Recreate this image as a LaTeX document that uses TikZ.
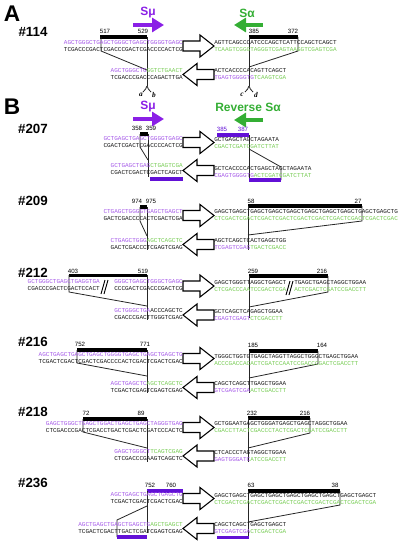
\documentclass[tikz,border=0pt]{standalone}
\usepackage{fontspec}
\setmainfont{Liberation Sans}
\newfontfamily\seqfont{Liberation Mono}
\newfontfamily\serifit{Liberation Serif}
\usetikzlibrary{arrows.meta}
\definecolor{sp}{HTML}{A65BE8}
\definecolor{sg}{HTML}{78CC55}
\definecolor{sk}{HTML}{1A1A1A}
\definecolor{apurple}{HTML}{8A1FE6}
\definecolor{agreen}{HTML}{34AE34}
\definecolor{bpurple}{HTML}{6210D6}
\newcommand{\Pu}[1]{\textcolor{sp}{#1}}
\newcommand{\Gr}[1]{\textcolor{sg}{#1}}
\newcommand{\RArr}[1]{\draw[openarr] (183,#1-5) -- (200,#1-5) -- (200,#1-11) -- (214,#1) -- (200,#1+11) -- (200,#1+5) -- (183,#1+5) -- cycle;}
\newcommand{\LArr}[1]{\draw[openarr] (214,#1-5) -- (197,#1-5) -- (197,#1-11) -- (183,#1) -- (197,#1+11) -- (197,#1+5) -- (214,#1+5) -- cycle;}
\newcommand{\Fork}[2]{\draw[thinline] (#1,#2) to[out=270,in=60] (#1-4,#2+6); \draw[thinline] (#1,#2) to[out=270,in=120] (#1+4,#2+6);}
\begin{document}
\begin{tikzpicture}[x=0.75pt,y=-0.75pt,
  seq/.style={font=\seqfont\fontsize{4.5}{4.5}\selectfont, inner sep=0pt, text=sk},
  num/.style={font=\fontsize{4.6}{5}\selectfont, inner sep=0pt},
  panel/.style={font=\bfseries\fontsize{17}{17}\selectfont, inner sep=0pt},
  rowlab/.style={font=\bfseries\fontsize{10}{10}\selectfont, inner sep=0pt},
  region/.style={font=\bfseries\fontsize{9}{9}\selectfont, inner sep=0pt},
  site/.style={font=\serifit\itshape\bfseries\fontsize{5.5}{6}\selectfont, inner sep=0pt},
  bar/.style={line width=2.4pt},
  pbar/.style={line width=2.4pt, draw=bpurple},
  thinline/.style={line width=0.6pt, draw=black!85},
  openarr/.style={line width=0.8pt, draw=black, fill=white},
  swarrow/.style={line width=3.4pt, -{Triangle[length=9pt,width=10.5pt]}}]
\useasboundingbox (0,0) rectangle (400,542);

% ================= Panel A =================
\node[panel] (lA) at (12,14) {A};
\node[rowlab] (r114) at (33,32) {\#114};
\node[region, text=apurple] (smuA) at (148,13) {Sμ};
\draw[swarrow, draw=apurple] (133,25) -- (164,25);
\node[region, text=agreen] (saA) at (247,13) {Sα};
\draw[swarrow, draw=agreen] (263,25) -- (234,25);

\draw[bar] (100,37) -- (147,37);
\node[num] (n517) at (105,31.5) {517};
\node[num] (n529) at (143,31.5) {529};
\draw[bar] (249,37) -- (298,37);
\node[num] (n385a) at (254,31.5) {385};
\node[num] (n372) at (293,31.5) {372};

\draw[thinline] (101,37) -- (101,51) -- (147,70);
\draw[thinline] (147,37) -- (147,86);
\draw[thinline] (298,37) -- (298,51) -- (249,67);
\draw[thinline] (249,37) -- (249,86);
\Fork{147}{86}
\Fork{249}{86}
\node[site] (sa) at (141,95) {a};
\node[site] (sb) at (154,95) {b};
\node[site] (sc) at (242,95) {c};
\node[site] (sd) at (256,95) {d};

\RArr{46}
\LArr{74.5}
\node[seq, anchor=east] (a1) at (183,42.5) {\Pu{AGCTGGGCTGAGCTGGGCTGAGCTGGGGTGAGC}};
\node[seq, anchor=east] (a2) at (183,49.5) {TCGACCCGACTCGACCCGACTCGACCCCACTCG};
\node[seq, anchor=west] (a3) at (214,42.5) {AGTTCAGCCCATCCCAGCTCATTCCAGCTCAGCT};
\node[seq, anchor=west] (a4) at (214,49.5) {\Gr{TCAAGTCGGGTAGGGTCGAGTAAGGTCGAGTCGA}};
\node[seq, anchor=east] (a5) at (183,71) {\Pu{AGCTGGGCTG}\Gr{GGTCTGAACT}};
\node[seq, anchor=east] (a6) at (183,78) {TCGACCCGACCCAGACTTGA};
\node[seq, anchor=west] (a7) at (214,71) {ACTCACCCCACAGTTCAGCT};
\node[seq, anchor=west] (a8) at (214,78) {\Pu{TGAGTGGGGTG}\Gr{TCAAGTCGA}};

% ================= Panel B =================
\node[panel] (lB) at (12,107) {B};
\node[region, text=apurple] (smuB) at (148,107) {Sμ};
\draw[swarrow, draw=apurple] (133,119) -- (164,119);
\node[region, text=agreen] (saB) at (248,107) {Reverse Sα};
\draw[swarrow, draw=agreen] (263,120) -- (234,120);

% ---- #207 ----
\node[rowlab] (r207) at (33,129) {\#207};
\node[num] (n358) at (137,128.5) {358};
\node[num] (n359) at (151,128.5) {359};
\draw[bar] (140,134) -- (148,134);
\node[num, text=bpurple] (n385b) at (222,129) {385};
\node[num, text=bpurple] (n387) at (243,129) {387};
\draw[pbar] (217,135) -- (249,135);
\draw[thinline] (140,134) -- (140,147) -- (148,160);
\draw[thinline] (148,134) -- (148,177);
\draw[thinline] (249,135) -- (249,180);
\draw[thinline] (249,149) -- (281,167) -- (281,180);
\draw[pbar] (150,179) -- (183,179);
\draw[pbar] (249,180) -- (281,180);
\RArr{142.5}
\LArr{170.5}
\node[seq, anchor=east] (b1) at (183,139) {\Pu{GCTGAGCTGAGCTGGGGTGAGC}};
\node[seq, anchor=east] (b2) at (183,146) {CGACTCGACTCGACCCCACTCG};
\node[seq, anchor=west] (b3) at (214,140) {GCTGAGCTAGCTAGAATA};
\node[seq, anchor=west] (b4) at (214,147) {\Gr{CGACTCGATCGATCTTAT}};
\node[seq, anchor=east] (b5) at (183,166) {\Pu{GCTGAGCTGAG}\Gr{CTGAGTCGA}};
\node[seq, anchor=east] (b6) at (183,173) {CGACTCGACTCGACTCAGCT};
\node[seq, anchor=west] (b7) at (214,169) {GCTCACCCCACTGAGCTAGCTAGAATA};
\node[seq, anchor=west] (b8) at (214,176) {\Pu{CGAGTGGGGTG}\Gr{ACTCGATCGATCTTAT}};

% ---- #209 ----
\node[rowlab] (r209) at (33,201) {\#209};
\node[num] (n974) at (137,201.5) {974};
\node[num] (n975) at (151,201.5) {975};
\draw[bar] (140,207) -- (147,207);
\node[num] (n58) at (251,201.5) {58};
\node[num] (n27) at (358,201.5) {27};
\draw[bar] (248,206) -- (362,206);
\draw[thinline] (140,207) -- (140,221) -- (147,236);
\draw[thinline] (147,207) -- (147,250);
\draw[thinline] (362,206) -- (362,221) -- (248,235);
\draw[thinline] (248,206) -- (248,250);
\RArr{215.5}
\LArr{244.5}
\node[seq, anchor=east] (c1) at (183,212) {\Pu{CTGAGCTGGGGTGAGCTGAGCT}};
\node[seq, anchor=east] (c2) at (183,219) {GACTCGACCCCACTCGACTCGA};
\node[seq, anchor=west] (c3) at (214,212) {GAGCTGAGCTGAGCTGAGCTGAGCTGAGCTGAGCTGAGCTGAGCTGAGCTG};
\node[seq, anchor=west] (c4) at (214,219) {\Gr{CTCGACTCGACTCGACTCGACTCGACTCGACTCGACTCGACTCGACTCGAC}};
\node[seq, anchor=east] (c5) at (183,241) {\Pu{CTGAGCTGGG}\Gr{AGCTCAGCTC}};
\node[seq, anchor=east] (c6) at (183,248) {GACTCGACCCTCGAGTCGAG};
\node[seq, anchor=west] (c7) at (214,241) {AGCTCAGCTCACTGAGCTGG};
\node[seq, anchor=west] (c8) at (214,248) {\Pu{TCGAGTCGAG}\Gr{TGACTCGACC}};

% ---- #212 ----
\node[rowlab] (r212) at (33,273) {\#212};
\node[num] (n403) at (73,271.5) {403};
\node[num] (n519) at (143,271.5) {519};
\draw[bar] (69,275.5) -- (147,275.5);
\node[num] (n259) at (253,271.5) {259};
\node[num] (n216a) at (322,271.5) {216};
\draw[bar] (249,276) -- (328,276);
\draw[thinline] (69,275) -- (69,292) -- (147,306);
\draw[thinline] (147,275) -- (147,320);
\draw[thinline] (328,276) -- (328,292) -- (249,307);
\draw[thinline] (249,276) -- (249,318);
\RArr{286}
\LArr{315}
\node[seq, anchor=east] (d1) at (100,282) {\Pu{GCTGGGCTGAGCTGAGGTGA}};
\node[seq, anchor=east] (d2) at (100,289) {CGACCCGACTCGACTCCACT};
\draw[line width=0.7pt] (101,294) -- (105,280) (104,294) -- (108,280);
\node[seq, anchor=east] (d1b) at (183,282) {\Pu{GGGCTGAGCTGGGCTGAGC}};
\node[seq, anchor=east] (d2b) at (183,289) {CCCGACTCGACCCGACTCG};
\node[seq, anchor=west] (d3) at (214,283) {GAGCTGGGTTAGGCTGAGCT};
\node[seq, anchor=west] (d4) at (214,290) {\Gr{CTCGACCCAATCCGACTCGA}};
\draw[line width=0.7pt] (286,295) -- (290,281) (289,295) -- (293,281);
\node[seq, anchor=west] (d3b) at (294,283) {TGAGCTGAGCTAGGCTGGAA};
\node[seq, anchor=west] (d4b) at (294,290) {\Gr{ACTCGACTCGATCCGACCTT}};
\node[seq, anchor=east] (d5) at (183,311) {\Pu{GCTGGGCTGA}ACCCAGCTC};
\node[seq, anchor=east] (d6) at (183,318) {CGACCCGACTTGGGTCGAG};
\node[seq, anchor=west] (d7) at (214,312) {GCTCAGCTCAGAGCTGGAA};
\node[seq, anchor=west] (d8) at (214,319) {\Pu{CGAGTCGAGT}\Gr{CTCGACCTT}};

% ---- #216 ----
\node[rowlab] (r216) at (33,342) {\#216};
\node[num] (n752a) at (80,344.5) {752};
\node[num] (n771) at (145,344.5) {771};
\draw[bar] (77,350) -- (147,350);
\node[num] (n185) at (253,345) {185};
\node[num] (n164) at (322,345) {164};
\draw[bar] (249,351) -- (318,351);
\draw[thinline] (77,350) -- (77,363) -- (147,376);
\draw[thinline] (147,350) -- (147,393);
\draw[thinline] (318,351) -- (318,364) -- (249,378);
\draw[thinline] (249,351) -- (249,393);
\RArr{358.5}
\LArr{387.5}
\node[seq, anchor=east] (e1) at (183,355) {\Pu{AGCTGAGCTGAGCTGAGCTGGGGTGAGCTGAGCTGAGCTG}};
\node[seq, anchor=east] (e2) at (183,362) {TCGACTCGACTCGACTCGACCCCACTCGACTCGACTCGAC};
\node[seq, anchor=west] (e3) at (214,357) {TGGGCTGGTGTGAGCTAGGTTAGGCTGGGCTGAGCTGGAA};
\node[seq, anchor=west] (e4) at (214,364) {\Gr{ACCCGACCACACTCGATCCAATCCGACCCGACTCGACCTT}};
\node[seq, anchor=east] (e5) at (183,384) {\Pu{AGCTGAGCTC}\Gr{AGCTCAGCTC}};
\node[seq, anchor=east] (e6) at (183,391) {TCGACTCGAGTCGAGTCGAG};
\node[seq, anchor=west] (e7) at (214,384) {CAGCTCAGCTTGAGCTGGAA};
\node[seq, anchor=west] (e8) at (214,391) {\Pu{GTCGAGTCGA}\Gr{ACTCGACCTT}};

% ---- #218 ----
\node[rowlab] (r218) at (33,412) {\#218};
\node[num] (n72) at (86,413.5) {72};
\node[num] (n89) at (141,413.5) {89};
\draw[bar] (83,419) -- (147,419);
\node[num] (n232) at (252,413) {232};
\node[num] (n216b) at (305,413) {216};
\draw[bar] (248,418) -- (310,418);
\draw[thinline] (83,419) -- (83,432) -- (147,448);
\draw[thinline] (147,419) -- (147,462);
\draw[thinline] (310,418) -- (310,433) -- (248,448);
\draw[thinline] (248,418) -- (248,462);
\RArr{427.5}
\LArr{456}
\node[seq, anchor=east] (f1) at (183,424) {\Pu{GAGCTGGGCTGAGCTGGACTGAGCTGAGCTAGGGTGAG}};
\node[seq, anchor=east] (f2) at (183,431) {CTCGACCCGACTCGACCTGACTCGACTCGATCCCACTC};
\node[seq, anchor=west] (f3) at (214,424) {GCTGGAATGAGCTGGGATGAGCTGAGCTAGGCTGGAA};
\node[seq, anchor=west] (f4) at (214,431) {\Gr{CGACCTTACTCGACCCTACTCGACTCGATCCGACCTT}};
\node[seq, anchor=east] (f5) at (183,452) {\Pu{GAGCTGGGCT}\Gr{TCAGTCGAG}};
\node[seq, anchor=east] (f6) at (183,459) {CTCGACCCGAAGTCAGCTC};
\node[seq, anchor=west] (f7) at (214,453) {CTCACCCTAGTAGGCTGGAA};
\node[seq, anchor=west] (f8) at (214,460) {\Pu{GAGTGGGATC}\Gr{ATCCGACCTT}};

% ---- #236 ----
\node[rowlab] (r236) at (33,483) {\#236};
\node[num] (n752b) at (150,485) {752};
\node[num] (n760) at (171,485) {760};
\draw[pbar] (147,491) -- (183,491);
\node[num] (n63) at (251,485) {63};
\node[num] (n38) at (335,485) {38};
\draw[bar] (248,491) -- (340,491);
\draw[thinline] (147,491) -- (147,533);
\draw[thinline] (147,506) -- (117,520) -- (117,537);
\draw[thinline] (340,491) -- (340,505) -- (248,522);
\draw[thinline] (248,491) -- (248,537);
\draw[pbar] (117,537) -- (147,537);
\draw[pbar] (217,537.5) -- (249,537.5);
\RArr{498.5}
\LArr{528.5}
\node[seq, anchor=east] (g1) at (183,495) {\Pu{AGCTGAGCTGAGCTGAGCTG}};
\node[seq, anchor=east] (g2) at (183,502) {TCGACTCGACTCGACTCGAC};
\node[seq, anchor=west] (g3) at (214,496) {GAGCTGAGCTGAGCTGAGCTGAGCTGAGCTGAGCTGAGCTGAGCT};
\node[seq, anchor=west] (g4) at (214,503) {\Gr{CTCGACTCGACTCGACTCGACTCGACTCGACTCGACTCGACTCGA}};
\node[seq, anchor=east] (g5) at (183,525) {\Pu{AGCTGAGCTGAGCTGAGCTG}\Gr{AGCTGAGCT}};
\node[seq, anchor=east] (g6) at (183,532) {TCGACTCGACTTGACTCGATCGAGTCGAG};
\node[seq, anchor=west] (g7) at (214,525) {CAGCTCAGCTGAGCTGAGCT};
\node[seq, anchor=west] (g8) at (214,532) {\Pu{GTCGAGTCGA}\Gr{CTCGACTCGA}};
\end{tikzpicture}
\end{document}
